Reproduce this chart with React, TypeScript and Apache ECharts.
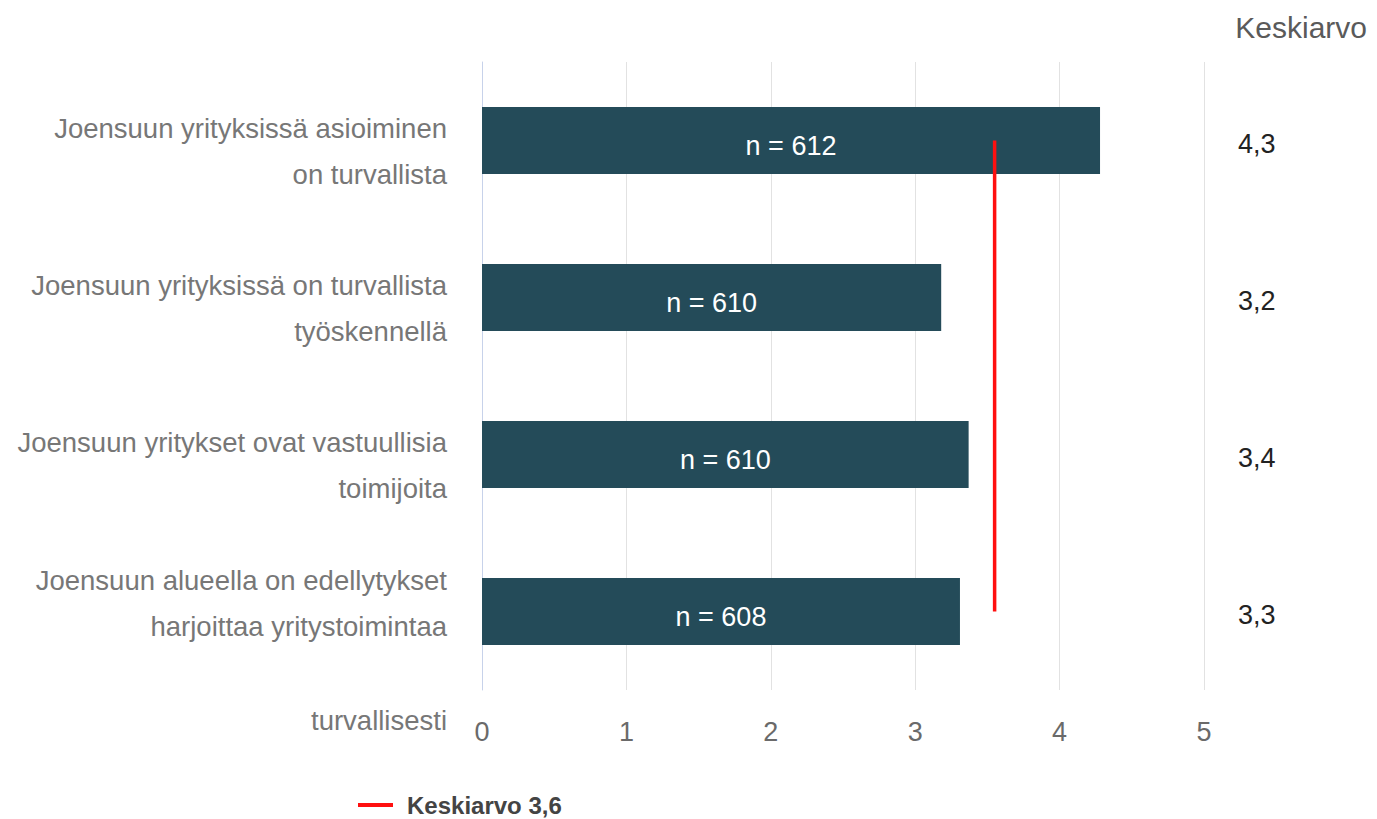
import React, { useEffect, useRef } from "react";
import * as echarts from "echarts";

const categories = [
  "Joensuun yrityksissä asioiminen\non turvallista",
  "Joensuun yrityksissä on turvallista\ntyöskennellä",
  "Joensuun yritykset ovat vastuullisia\ntoimijoita",
  "Joensuun alueella on edellytykset\nharjoittaa yritystoimintaa",
];
const overflowLine = "turvallisesti";
const values = [4.28, 3.18, 3.37, 3.31];
const counts = [612, 610, 610, 608];
const meanValue = 3.55;
const meanLabel = "Keskiarvo 3,6";
const xTicks = [0, 1, 2, 3, 4, 5];

const fmt = (v: number) => v.toFixed(1).replace(".", ",");

export default function App() {
  const ref = useRef<HTMLDivElement>(null);
  useEffect(() => {
    if (!ref.current) return;
    const chart = echarts.init(ref.current, undefined, { renderer: "svg" });
    const font = "Liberation Sans, Arial, sans-serif";
    chart.setOption({
      animation: false,
      textStyle: { fontFamily: font },
      title: {
        text: "Keskiarvo",
        right: 5,
        top: 7,
        textStyle: { color: "#5a5a5a", fontSize: 30, fontWeight: "normal", fontFamily: font },
      },
      legend: {
        left: 358,
        top: 793,
        icon: "rect",
        itemWidth: 35,
        itemHeight: 4,
        padding: 0,
        data: [meanLabel],
        textStyle: { color: "#444", fontSize: 24, fontWeight: "bold", fontFamily: font, padding: [0, 0, 0, 9] },
      },
      grid: { left: 482, right: 173, top: 62, bottom: 129, containLabel: false },
      xAxis: {
        type: "value",
        min: xTicks[0],
        max: xTicks[xTicks.length - 1],
        interval: 1,
        axisLine: { show: false },
        axisTick: { show: false },
        splitLine: { lineStyle: { color: "#e2e2e2", width: 1 } },
        axisLabel: { color: "#6a6a6a", fontSize: 27, margin: 28 },
      },
      yAxis: [
        {
          type: "category",
          inverse: true,
          data: categories,
          axisLine: { show: true, lineStyle: { color: "#c7d2ea", width: 1 } },
          axisTick: { show: false },
          axisLabel: {
            margin: 35,
            align: "right",
            formatter: (v: string, i: number) => {
              const lines = v.split("\n").map((l) => `{t|${l}}`).join("\n");
              return i === categories.length - 1 ? `${lines}\n{b| }` : `{a| }\n${lines}`;
            },
            rich: {
              t: { color: "#777", fontSize: 27.5, lineHeight: 46, fontFamily: font, align: "right" },
              a: { fontSize: 10, lineHeight: 22 },
              b: { fontSize: 10, lineHeight: 17 },
            },
          },
        },
        {
          type: "category",
          inverse: true,
          position: "right",
          data: values.map(fmt),
          axisLine: { show: false },
          axisTick: { show: false },
          axisLabel: {
            margin: 34,
            align: "left",
            formatter: (v: string) => `{s| }\n{v|${v}}`,
            rich: {
              v: { color: "#222", fontSize: 27, lineHeight: 30, fontFamily: font },
              s: { fontSize: 4, lineHeight: 6 },
            },
          },
        },
      ],
      graphic: [
        {
          type: "text",
          right: 1377 - 447,
          top: 706,
          style: { text: overflowLine, fill: "#777", fontSize: 27.5, fontFamily: font },
        },
      ],
      series: [
        {
          type: "bar",
          data: values,
          barWidth: 67,
          itemStyle: { color: "#244b59" },
          label: {
            show: true,
            position: "inside",
            color: "#fff",
            fontSize: 27,
            offset: [0, 5],
            formatter: (p: any) => `n = ${counts[p.dataIndex]}`,
          },
        },
        {
          type: "line",
          name: meanLabel,
          data: [
            [meanValue, 0],
            [meanValue, categories.length - 1],
          ],
          symbol: "none",
          color: "#ff1010",
          lineStyle: { color: "#ff1010", width: 3.5 },
          z: 5,
        },
      ],
    });
    return () => chart.dispose();
  }, []);
  return (
    <div
      ref={ref}
      style={{ position: "absolute", left: 0, top: 0, width: 1377, height: 819 }}
    />
  );
}
